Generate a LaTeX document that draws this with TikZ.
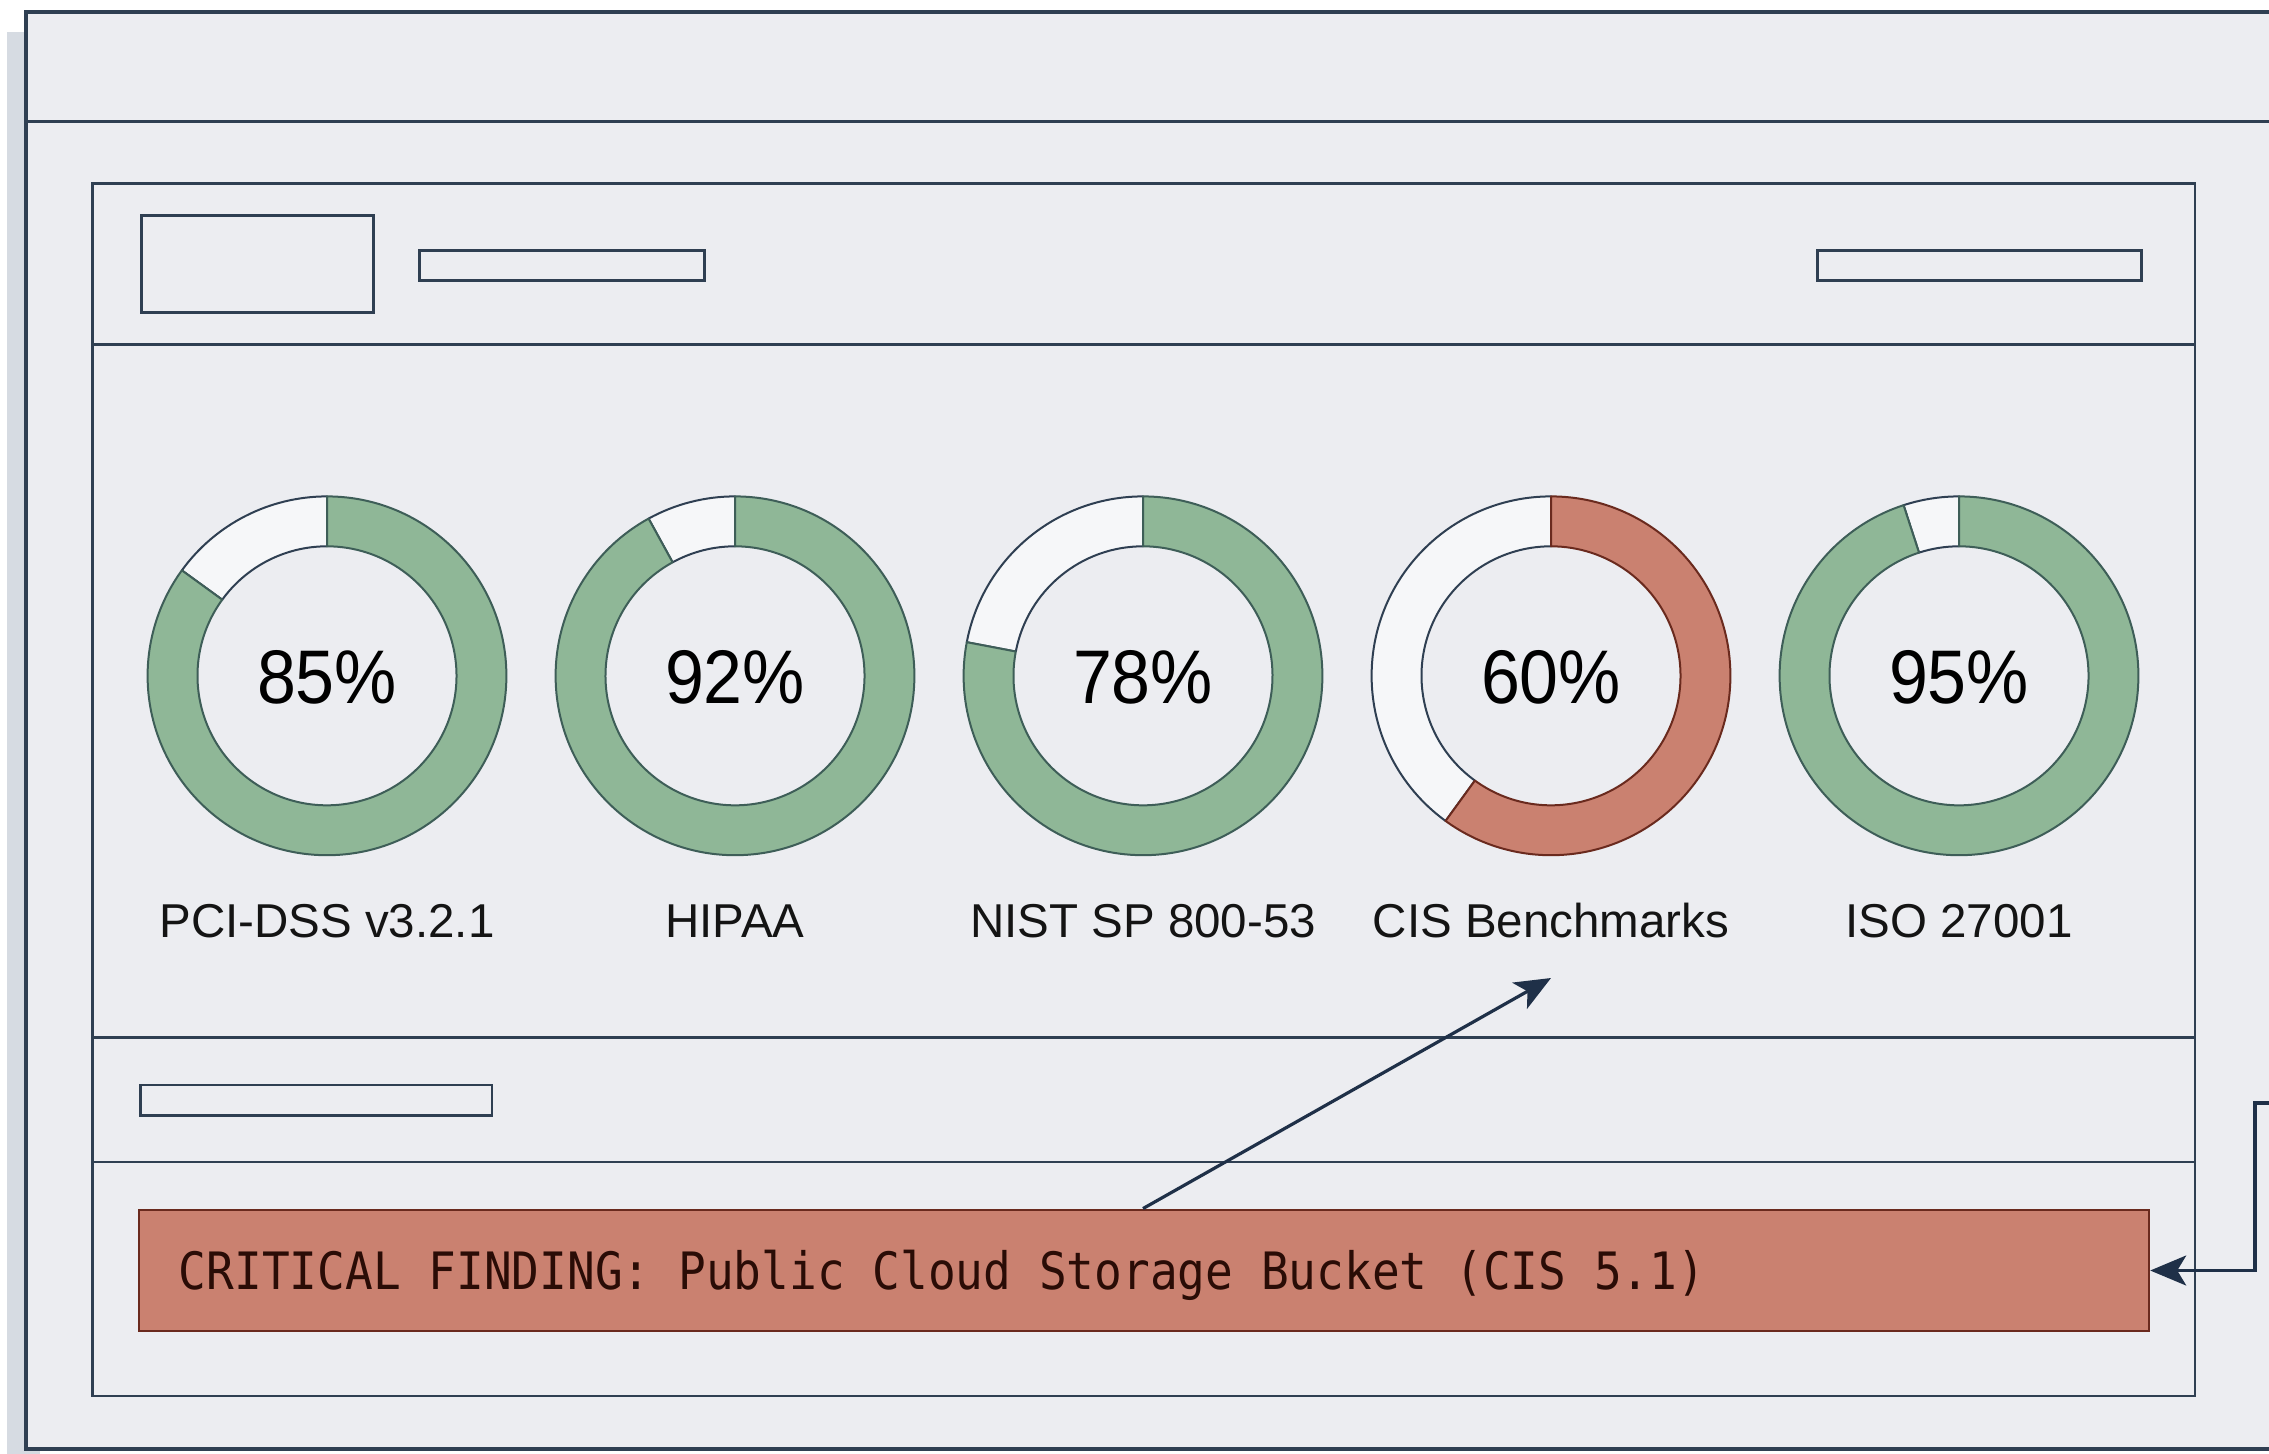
\documentclass[tikz,border=0pt]{standalone}
\usepackage{fontspec}
\setmainfont{Liberation Sans}
\newfontfamily\pctfont[FakeStretch=0.92]{Liberation Sans}
\newfontfamily\monofnt[FakeStretch=0.895]{DejaVu Sans Mono}
\usetikzlibrary{calc,arrows.meta}
\definecolor{bgc}{HTML}{ECEDF1}
\definecolor{shadowc}{HTML}{D6DBE2}
\definecolor{linec}{HTML}{2F3F52}
\definecolor{arrowc}{HTML}{1F3048}
\definecolor{greenf}{HTML}{8FB797}
\definecolor{greens}{HTML}{3E5E58}
\definecolor{redf}{HTML}{CA8170}
\definecolor{reds}{HTML}{6A2A1E}
\definecolor{emptyc}{HTML}{F6F7F9}
\definecolor{txtc}{HTML}{141414}
\definecolor{monoc}{HTML}{2A0C06}
\tikzset{
  frame/.style={draw=linec, line width=3.2pt},
  thin frame/.style={draw=linec, line width=2.8pt},
  placeholder/.style={draw=linec, line width=2.8pt, fill=bgc},
  ring/.style={line width=2pt, line join=round},
  pct/.style={font=\pctfont\fontsize{76}{80}\selectfont, text=black, inner sep=0pt, anchor=base},
  lbl/.style={font=\fontsize{47.5}{52}\selectfont, text=txtc, inner sep=0pt, anchor=base},
  redbox/.style={draw=reds, line width=2.4pt, fill=redf, inner sep=0pt},
  monotext/.style={font=\monofnt\fontsize{51.5}{56}\selectfont, text=monoc, inner sep=0pt, anchor=base west},
  conn/.style={draw=arrowc, line width=3.2pt, -{Stealth[length=36pt,width=30pt,inset=9pt]}}
}
\newcommand\donut[6]{%
  \coordinate (#1) at (#2,-675.8);
  \pgfmathsetmacro\enda{90-3.6*#3}
  \pgfmathsetmacro\endb{450-3.6*#3}
  \filldraw[ring, fill=emptyc, draw=linec]
    ($(#1)+(90:179.4pt)$) arc[start angle=90, end angle=\endb, radius=179.4pt]
    -- ($(#1)+(\endb:129.5pt)$) arc[start angle=\endb, end angle=90, radius=129.5pt] -- cycle;
  \filldraw[ring, fill=#4, draw=#5]
    ($(#1)+(90:179.4pt)$) arc[start angle=90, end angle=\enda, radius=179.4pt]
    -- ($(#1)+(\enda:129.5pt)$) arc[start angle=\enda, end angle=90, radius=129.5pt] -- cycle;
  \node[pct] (#1p) at (#2,-703) {#3\%};
  \node[lbl] (#1l) at (#2,-937) {#6};
}
\begin{document}
\begin{tikzpicture}[x=1pt,y=1pt]
\clip (0,0) rectangle (2269,-1453);
\fill[white] (0,0) rectangle (2269,-1453);
% shadow and outer window
\fill[shadowc] (7,-32) rectangle (40,-1460);
\draw[frame, fill=bgc] (26,-12) rectangle (2330,-1449);
\draw[frame] (26,-121.6) -- (2330,-121.6);
% inner panel
\draw[thin frame] (92.6,-183.8) rectangle (2195,-1396);
\draw[thin frame] (92.6,-344.4) -- (2195,-344.4);
\draw[thin frame] (92.6,-1037.6) -- (2195,-1037.6);
\draw[thin frame] (92.6,-1162) -- (2195,-1162);
% header placeholders
\node[placeholder, minimum width=231.5pt, minimum height=97pt, inner sep=0pt] (logo) at (257.6,-264.1) {};
\node[placeholder, minimum width=285pt, minimum height=30.4pt, inner sep=0pt] (title) at (562.2,-265.5) {};
\node[placeholder, minimum width=324pt, minimum height=30.4pt, inner sep=0pt] (menu) at (1979.7,-265.5) {};
\node[placeholder, minimum width=351.6pt, minimum height=30.7pt, inner sep=0pt] (sub) at (316.2,-1100.4) {};
% donuts
\donut{d1}{327}{85}{greenf}{greens}{PCI-DSS v3.2.1}
\donut{d2}{735}{92}{greenf}{greens}{HIPAA}
\donut{d3}{1143}{78}{greenf}{greens}{NIST SP 800-53}
\donut{d4}{1551}{60}{redf}{reds}{CIS Benchmarks}
\donut{d5}{1959}{95}{greenf}{greens}{ISO 27001}
% critical finding
\node[redbox, minimum width=2010pt, minimum height=121.5pt] (finding) at (1144,-1270.5) {};
\node[monotext] (findtxt) at (178.7,-1289) {CRITICAL FINDING: Public Cloud Storage Bucket (CIS 5.1)};
% connectors
\coordinate (tip) at (1551,-978);
\draw[conn] (finding.north -| d3) -- (tip);
\coordinate (src) at (2300,-1103);
\draw[conn] (src) -- (2255,-1103) -- (2255,-1270.5) -- (finding.east);
\end{tikzpicture}
\end{document}
